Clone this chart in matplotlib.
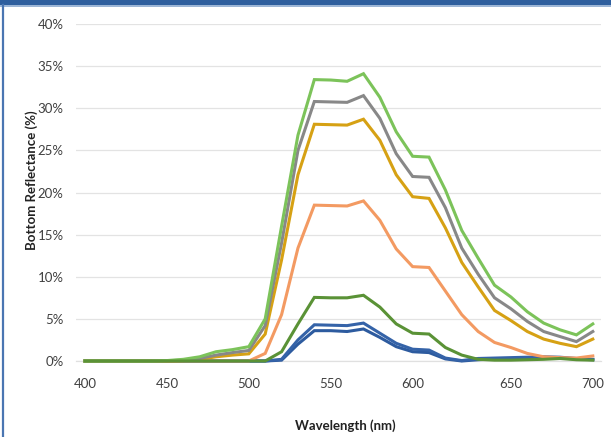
import matplotlib
matplotlib.use('Agg')
import matplotlib.pyplot as plt
from matplotlib.patches import Rectangle
from matplotlib.lines import Line2D

# Category axis (Excel line chart): wavelengths in nm
wavelengths = [400, 410, 420, 430, 440, 450, 460, 470, 480, 490,
               500, 510, 520, 530, 540, 550, 560, 570, 580, 590,
               600, 610, 620, 625, 630, 640, 650, 660, 670, 680, 690, 700]

# Bottom reflectance (%)
light_green = [0, 0, 0, 0, 0, 0.05, 0.2, 0.5, 1.1, 1.35,
               1.7, 5.0, 16, 26.8, 33.4, 33.35, 33.2, 34.1, 31.3, 27.2,
               24.3, 24.2, 20.3, 15.5, 12.2, 9.0, 7.6, 5.85, 4.5, 3.7, 3.1, 4.4]
gray = [0, 0, 0, 0, 0, 0.03, 0.1, 0.3, 0.7, 1.0,
        1.25, 4.2, 14, 25, 30.8, 30.75, 30.7, 31.5, 28.8, 24.6,
        21.9, 21.8, 18.2, 13.4, 10.3, 7.5, 6.2, 4.7, 3.5, 2.9, 2.3, 3.5]
gold = [0, 0, 0, 0, 0, 0, 0.05, 0.2, 0.5, 0.7,
        0.85, 3.2, 12, 22.1, 28.1, 28.05, 28.0, 28.7, 26.2, 22.1,
        19.5, 19.3, 15.8, 11.7, 8.8, 6.0, 4.8, 3.5, 2.6, 2.1, 1.7, 2.6]
orange = [0, 0, 0, 0, 0, 0, 0, 0, 0, 0,
          0, 0.9, 5.5, 13.4, 18.5, 18.45, 18.4, 19.0, 16.7, 13.3,
          11.2, 11.1, 8.3, 5.5, 3.5, 2.2, 1.6, 0.9, 0.5, 0.4, 0.35, 0.6]
dark_green = [0, 0, 0, 0, 0, 0, 0, 0, 0, 0,
              0, 0, 1.1, 4.4, 7.55, 7.5, 7.5, 7.8, 6.4, 4.4,
              3.3, 3.2, 1.6, 0.7, 0.2, 0.1, 0.1, 0.15, 0.2, 0.3, 0.15, 0.1]
blue_upper = [0, 0, 0, 0, 0, 0, 0, 0, 0, 0,
              0, 0, 0.2, 2.5, 4.3, 4.25, 4.2, 4.5, 3.3, 2.1,
              1.4, 1.3, 0.35, 0.05, 0.3, 0.35, 0.4, 0.45, 0.5, 0.45, 0.3, 0.2]
blue_lower = [0, 0, 0, 0, 0, 0, 0, 0, 0, 0,
              0, 0, 0.1, 2.0, 3.6, 3.6, 3.5, 3.8, 2.8, 1.7,
              1.1, 1.0, 0.25, 0.0, 0.15, 0.25, 0.3, 0.35, 0.4, 0.35, 0.25, 0.15]

y_ticks = [0, 5, 10, 15, 20, 25, 30, 35, 40]

W, H = 611, 437
fig = plt.figure(figsize=(W / 100, H / 100), dpi=100)
fig.patch.set_facecolor('white')

# slide frame decorations
fig.patches.append(Rectangle((0, 1 - 5 / H), 1, 5 / H, transform=fig.transFigure,
                             facecolor='#2F5F9E', edgecolor='none'))
fig.patches.append(Rectangle((0, 1 - 6.5 / H), 1, 1.5 / H, transform=fig.transFigure,
                             facecolor='#9DB6D6', edgecolor='none'))
fig.lines.append(Line2D([3 / W, 3 / W], [0, 1 - 5 / H], transform=fig.transFigure,
                        color='#4A76B2', lw=1.6))

ax = fig.add_axes([76 / W, 1 - 361 / H, (601 - 76) / W, (361 - 24) / H])
x = list(range(len(wavelengths)))

series = [
    (blue_lower, '#2D5B9F'),
    (blue_upper, '#3563A8'),
    (orange, '#F39A62'),
    (gold, '#D6A114'),
    (gray, '#888888'),
    (light_green, '#7CC35A'),
    (dark_green, '#5A9236'),
]
for vals, col in series:
    ax.plot(x, vals, color=col, lw=2.2, solid_joinstyle='miter', clip_on=False, zorder=3)

ax.set_xlim(-0.55, 31.5)
ax.set_ylim(0, 40)
ax.set_yticks(y_ticks)
ax.set_yticklabels([f'{v}%' for v in y_ticks])
tick_idx = [i for i, w in enumerate(wavelengths) if w % 50 == 0]
ax.set_xticks(tick_idx)
ax.set_xticklabels([str(wavelengths[i]) for i in tick_idx])

ax.grid(axis='y', color='#E3E3E3', lw=0.9, zorder=0)
ax.set_axisbelow(True)
for s in ['top', 'right', 'left']:
    ax.spines[s].set_visible(False)
ax.spines['bottom'].set_color('#E0E0E0')
ax.spines['bottom'].set_linewidth(0.9)
ax.tick_params(axis='both', length=0, labelsize=9.5, labelcolor='#404040')
ax.tick_params(axis='y', pad=9)
ax.tick_params(axis='x', pad=12)
for lab in ax.get_xticklabels() + ax.get_yticklabels():
    lab.set_family('Lato')

fig.text(345 / W, 1 - 426 / H, 'Wavelength (nm)', ha='center', va='center',
         fontsize=9.5, fontweight='bold', family='Lato', color='#222222')
fig.text(32 / W, 1 - 180 / H, 'Bottom Reflectance (%)', ha='center', va='center',
         rotation=90, fontsize=9.5, fontweight='bold', family='Lato', color='#222222')

fig.savefig('out.png', dpi=100, facecolor='white')
